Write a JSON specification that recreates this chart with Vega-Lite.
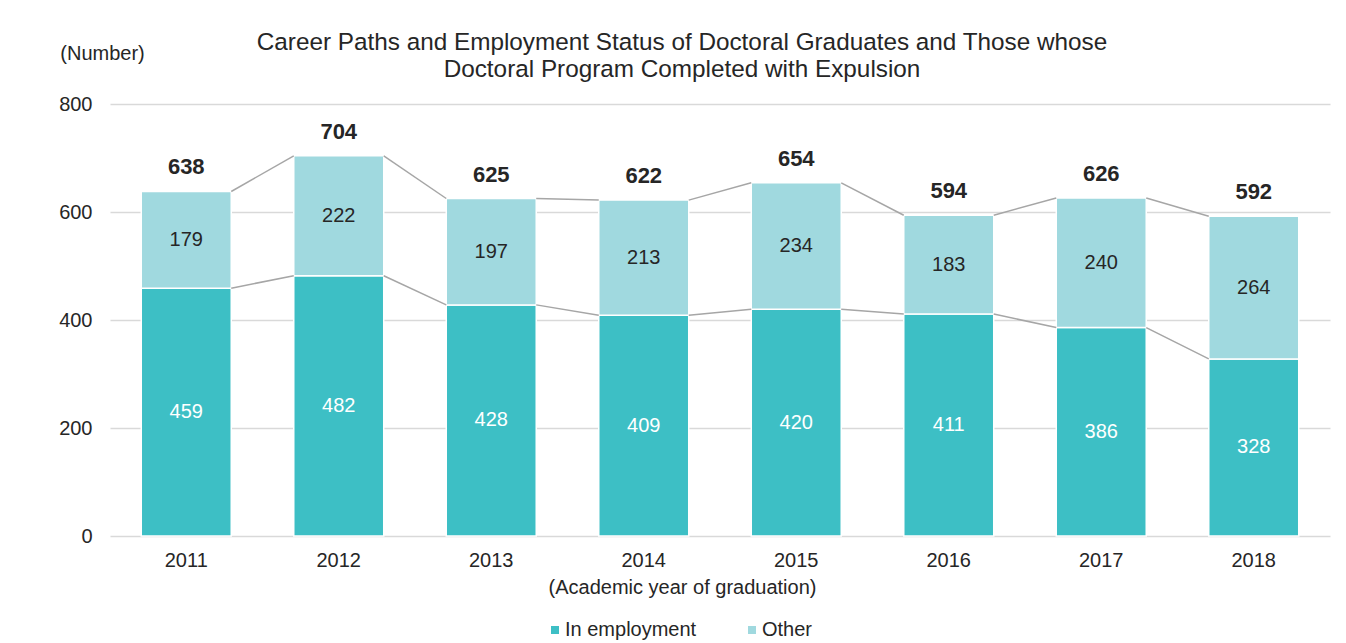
{
  "$schema": "https://vega.github.io/schema/vega-lite/v6.json",
  "width": 1220,
  "height": 432,
  "autosize": {"type": "none"},
  "padding": {"left": 110, "top": 104, "right": 16, "bottom": 107},
  "background": "white",
  "config": {
    "font": "Liberation Sans",
    "view": {"stroke": null},
    "text": {"font": "Liberation Sans"}
  },
  "title": {
    "text": ["Career Paths and Employment Status of Doctoral Graduates and Those whose", "Doctoral Program Completed with Expulsion"],
    "fontSize": 24.3,
    "fontWeight": "normal",
    "color": "#262626",
    "anchor": "middle",
    "frame": "group",
    "dx": -38,
    "dy": 66,
    "offset": 27,
    "lineHeight": 27
  },
  "datasets": {
    "long": [
      {"year": "2011", "status": "In employment", "value": 459},
      {"year": "2011", "status": "Other", "value": 179},
      {"year": "2012", "status": "In employment", "value": 482},
      {"year": "2012", "status": "Other", "value": 222},
      {"year": "2013", "status": "In employment", "value": 428},
      {"year": "2013", "status": "Other", "value": 197},
      {"year": "2014", "status": "In employment", "value": 409},
      {"year": "2014", "status": "Other", "value": 213},
      {"year": "2015", "status": "In employment", "value": 420},
      {"year": "2015", "status": "Other", "value": 234},
      {"year": "2016", "status": "In employment", "value": 411},
      {"year": "2016", "status": "Other", "value": 183},
      {"year": "2017", "status": "In employment", "value": 386},
      {"year": "2017", "status": "Other", "value": 240},
      {"year": "2018", "status": "In employment", "value": 328},
      {"year": "2018", "status": "Other", "value": 264}
    ],
    "wide": [
      {"year": "2011", "employment": 459, "total": 638},
      {"year": "2012", "employment": 482, "total": 704},
      {"year": "2013", "employment": 428, "total": 625},
      {"year": "2014", "employment": 409, "total": 622},
      {"year": "2015", "employment": 420, "total": 654},
      {"year": "2016", "employment": 411, "total": 594},
      {"year": "2017", "employment": 386, "total": 626},
      {"year": "2018", "employment": 328, "total": 592}
    ]
  },
  "layer": [
    {
      "data": {"name": "long"},
      "mark": {"type": "bar", "stroke": "white", "strokeWidth": 1.5},
      "encoding": {
        "x": {
          "field": "year",
          "type": "ordinal",
          "scale": {"paddingInner": 0.41, "paddingOuter": 0.205},
          "axis": {
            "title": "(Academic year of graduation)",
            "titleX": 572,
            "titleY": 51,
            "titleAlign": "center",
            "titleBaseline": "middle",
            "titleFontSize": 20,
            "titleFontWeight": "normal",
            "titleColor": "#262626",
            "labelAngle": 0,
            "labelFontSize": 20,
            "labelColor": "#262626",
            "labelPadding": 14,
            "ticks": false,
            "domain": false
          }
        },
        "y": {
          "field": "value",
          "type": "quantitative",
          "stack": "zero",
          "scale": {"domain": [0, 800]},
          "axis": {
            "title": "(Number)",
            "titleAngle": 0,
            "titleX": -8,
            "titleY": -51,
            "titleAlign": "center",
            "titleBaseline": "middle",
            "titleFontSize": 20,
            "titleFontWeight": "normal",
            "titleColor": "#262626",
            "values": [0, 200, 400, 600, 800],
            "labelFontSize": 20,
            "labelColor": "#262626",
            "labelPadding": 18,
            "ticks": false,
            "domain": false,
            "gridColor": "#d9d9d9",
            "gridWidth": 1.5
          }
        },
        "order": {"field": "status", "sort": "ascending"},
        "color": {
          "field": "status",
          "type": "nominal",
          "scale": {"domain": ["In employment", "Other"], "range": ["#3DBFC5", "#A0D9DF"]},
          "legend": {
            "title": null,
            "orient": "none",
            "legendX": 435,
            "legendY": 516,
            "direction": "horizontal",
            "symbolType": "square",
            "symbolSize": 64,
            "symbolStrokeWidth": 0,
            "labelFontSize": 20,
            "labelColor": "#262626",
            "columnPadding": 45,
            "labelOffset": 0
          }
        }
      }
    },
    {
      "data": {"name": "long"},
      "transform": [
        {"stack": "value", "groupby": ["year"], "sort": [{"field": "status", "order": "ascending"}], "as": ["v0", "v1"]},
        {"calculate": "(datum.v0 + datum.v1) / 2", "as": "mid"}
      ],
      "mark": {"type": "text", "fontSize": 20, "baseline": "middle", "align": "center"},
      "encoding": {
        "x": {"field": "year", "type": "ordinal"},
        "y": {"field": "mid", "type": "quantitative"},
        "text": {"field": "value", "type": "quantitative"},
        "color": {"condition": {"test": "datum.status === 'In employment'", "value": "white"}, "value": "#262626"}
      }
    },
    {
      "data": {"name": "wide"},
      "transform": [
        {"window": [{"op": "lead", "field": "year", "as": "nextYear"}, {"op": "lead", "field": "employment", "as": "nextEmployment"}, {"op": "lead", "field": "total", "as": "nextTotal"}], "sort": [{"field": "year"}]},
        {"filter": "datum.nextYear != null"}
      ],
      "layer": [
        {
          "mark": {"type": "rule", "color": "#A6A6A6", "strokeWidth": 1.5},
          "encoding": {
            "x": {"field": "year", "type": "ordinal", "bandPosition": 1},
            "x2": {"field": "nextYear", "bandPosition": 0},
            "y": {"field": "employment", "type": "quantitative"},
            "y2": {"field": "nextEmployment"}
          }
        },
        {
          "mark": {"type": "rule", "color": "#A6A6A6", "strokeWidth": 1.5},
          "encoding": {
            "x": {"field": "year", "type": "ordinal", "bandPosition": 1},
            "x2": {"field": "nextYear", "bandPosition": 0},
            "y": {"field": "total", "type": "quantitative"},
            "y2": {"field": "nextTotal"}
          }
        }
      ]
    },
    {
      "data": {"name": "wide"},
      "mark": {"type": "text", "fontSize": 22, "fontWeight": "bold", "color": "#262626", "baseline": "middle", "dy": -24},
      "encoding": {
        "x": {"field": "year", "type": "ordinal"},
        "y": {"field": "total", "type": "quantitative"},
        "text": {"field": "total", "type": "quantitative"}
      }
    }
  ]
}
